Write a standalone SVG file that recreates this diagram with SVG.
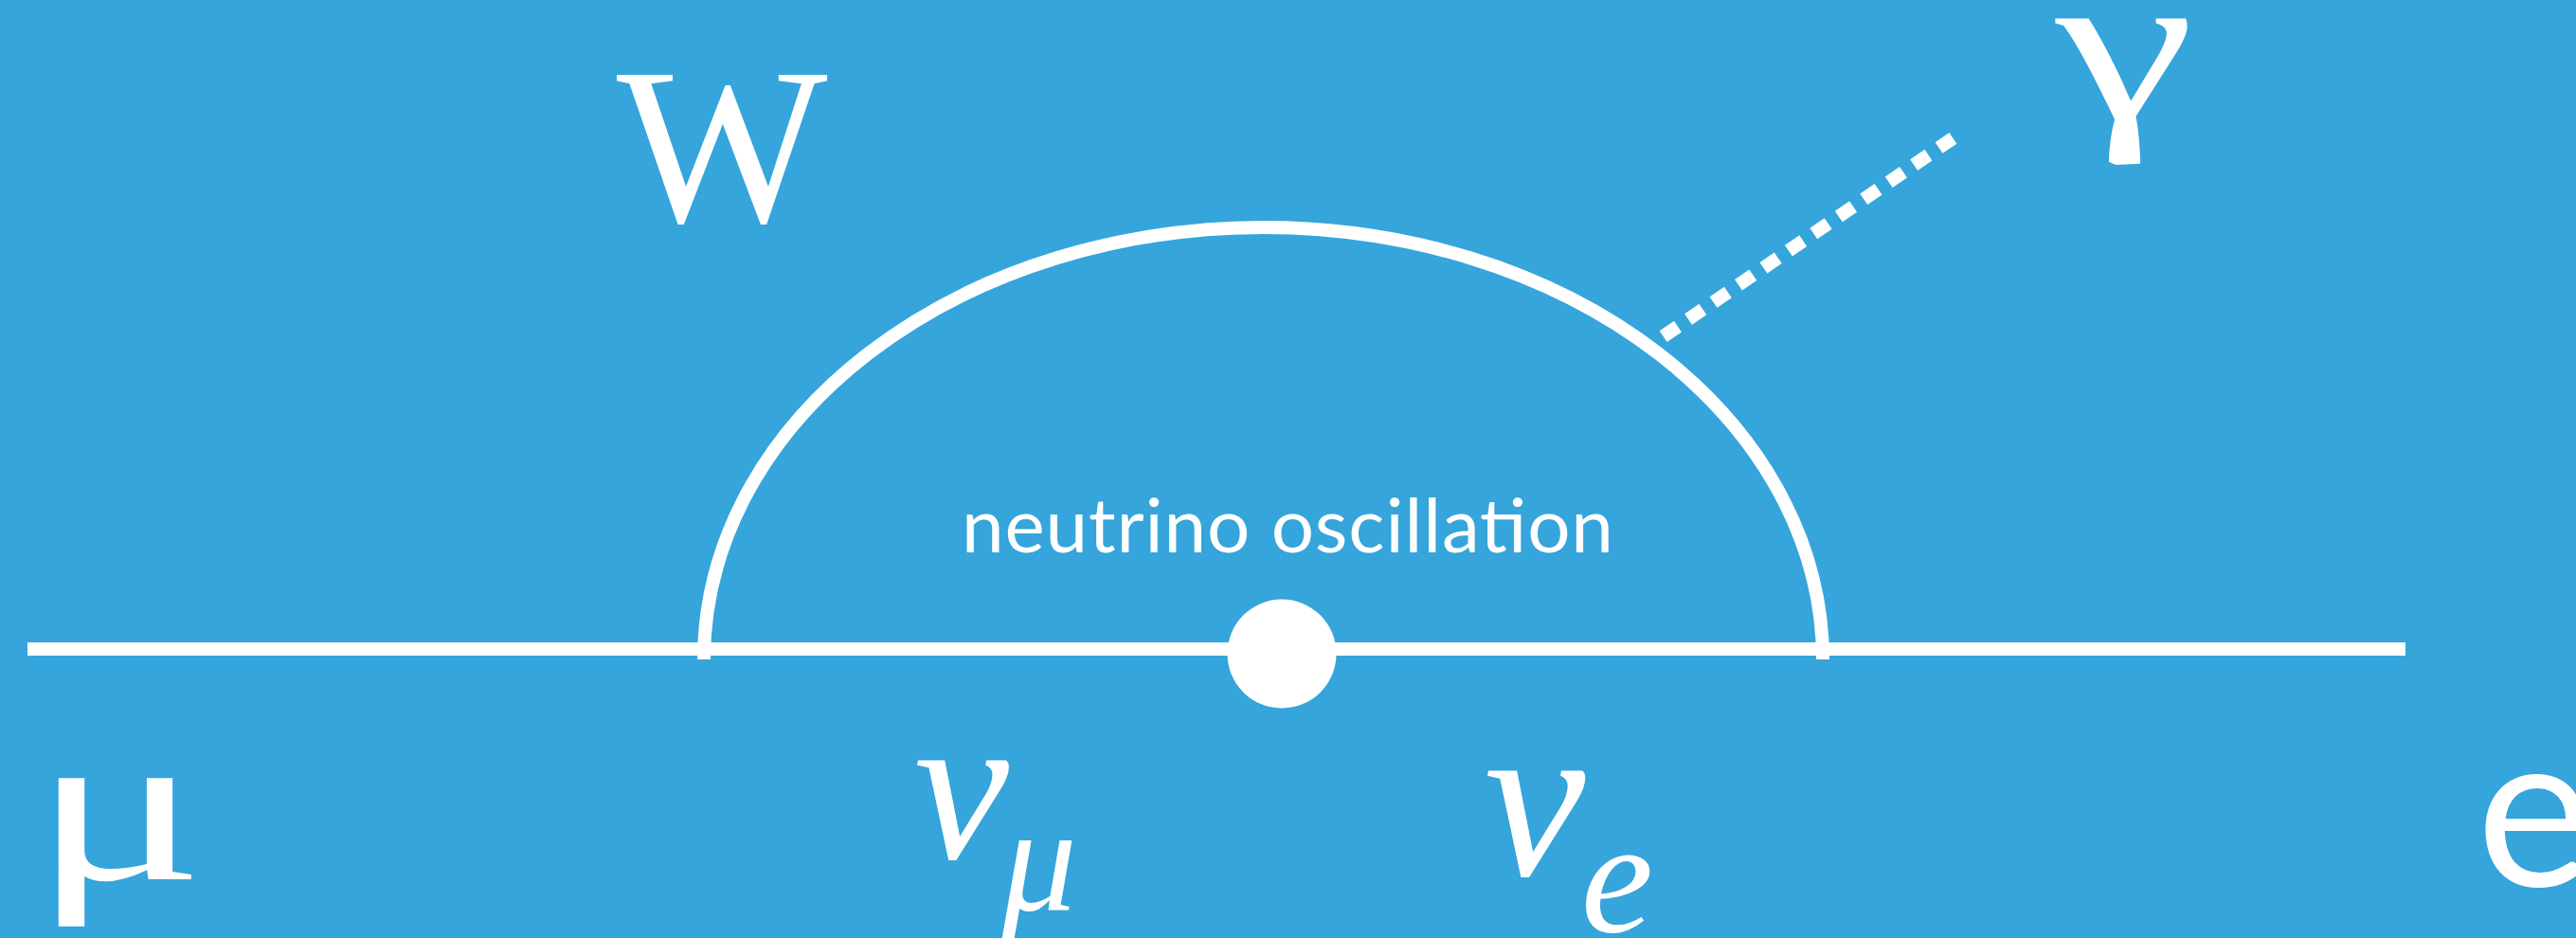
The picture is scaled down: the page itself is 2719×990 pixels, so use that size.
<svg xmlns="http://www.w3.org/2000/svg" width="2719" height="990" viewBox="0 0 2719 990">
<style>
.bg{fill:#35A5DB}
.ln{fill:none;stroke:#FFFFFF;stroke-width:14}
.sym{fill:#FFFFFF;font-family:"Liberation Serif","DejaVu Serif",serif}
.it{fill:#FFFFFF;font-family:"Liberation Serif","DejaVu Serif",serif;font-style:italic}
.sans{fill:#FFFFFF;font-family:"Lato","Liberation Sans",sans-serif}
</style>
<rect class="bg" x="0" y="0" width="2719" height="990"/>
<g id="connectors">
<line class="ln" x1="29" y1="685" x2="2539" y2="685"/>
<path class="ln" d="M743,696 A590.5,456 0 0 1 1924,696"/>
<line class="ln" x1="1755.6" y1="355.1" x2="2061.4" y2="145.9" stroke-width="8" stroke-dasharray="18.6 13.45"/>
</g>
<g id="vertex">
<circle cx="1353" cy="690" r="57.5" fill="#FFFFFF"/>
</g>
<g id="label-W"><text class="sym" x="762" y="233" font-size="236" text-anchor="middle">W</text></g>
<g id="label-gamma"><text class="sym" transform="translate(2243,125) scale(1.44,1)" x="0" y="0" font-size="230" text-anchor="middle">γ</text></g>
<g id="label-mu"><text class="sym" transform="translate(125,928) scale(1.38,0.95)" x="0" y="0" font-size="245" text-anchor="middle">μ</text></g>
<g id="label-nu-mu"><text class="it" x="1015" y="906" font-size="225" text-anchor="middle">ν</text><text class="it" x="1097" y="960" font-size="158" text-anchor="middle">μ</text></g>
<g id="label-nu-e"><text class="it" x="1620" y="924" font-size="240" text-anchor="middle">ν</text><text class="it" x="1707" y="983" font-size="172" text-anchor="middle">e</text></g>
<g id="label-e"><text class="sans" x="2614" y="935" font-size="230">e</text></g>
<g id="label-osc"><text class="sans" x="1359" y="583" font-size="80" text-anchor="middle" textLength="688" lengthAdjust="spacing">neutrino oscillation</text></g>
</svg>
